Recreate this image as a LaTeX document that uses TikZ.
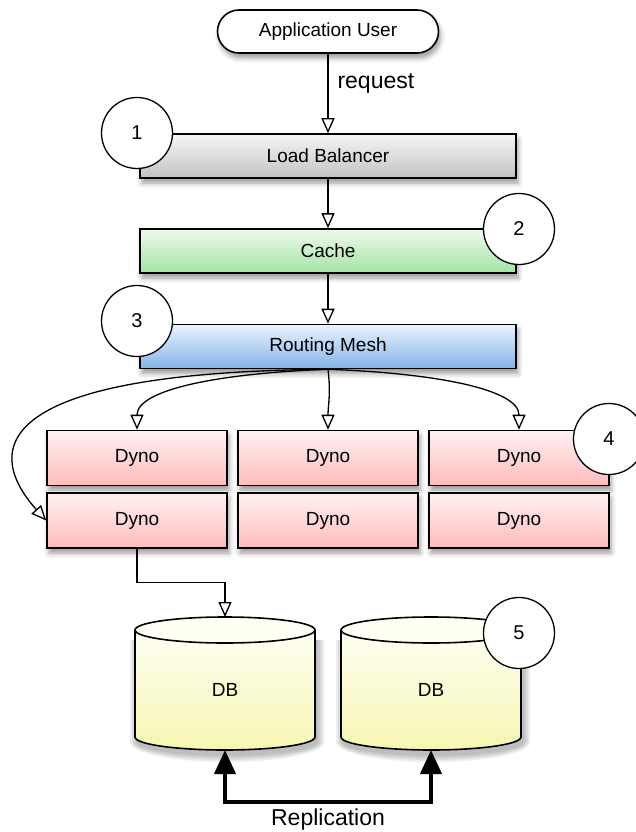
\documentclass[tikz,border=0pt]{standalone}
\usepackage{fontspec}
\setmainfont{Liberation Sans}
\usetikzlibrary{arrows.meta,shapes.misc,shadows.blur}

\newcommand\bxfont{\fontsize{19}{22}\selectfont}
\newcommand\lblfont{\fontsize{23}{26}\selectfont}
\newcommand\cfont{\fontsize{20}{22}\selectfont}

\definecolor{lbtop}{HTML}{F6F6F6}
\definecolor{lbbot}{HTML}{C2C2C2}
\definecolor{catop}{HTML}{EEFAEE}
\definecolor{cabot}{HTML}{A4E4A4}
\definecolor{rmtop}{HTML}{EAF2FC}
\definecolor{rmbot}{HTML}{84B4EA}
\definecolor{dytop}{HTML}{FFF2F2}
\definecolor{dybot}{HTML}{FFBABD}
\definecolor{dbtop}{HTML}{FFFFF4}
\definecolor{dbbot}{HTML}{F6F6B2}

\tikzset{
  shad/.style={blur shadow={shadow xshift=2pt, shadow yshift=-5pt, shadow blur radius=5pt, shadow opacity=40}},
  tier/.style={draw=black, line width=1.6pt, minimum width=376pt, minimum height=44pt,
    inner sep=0pt, font=\bxfont, shad},
  dyno/.style={tier, minimum width=180pt, minimum height=55pt, top color=dytop, bottom color=dybot},
  badge/.style={circle, draw=black, fill=white, line width=1.3pt, minimum size=71pt,
    inner sep=0pt, font=\cfont},
  link/.style={line width=1.3pt, -{Triangle[length=15pt, width=13pt, fill=white, line width=1.3pt]}},
  heavy/.style={line width=4pt, {Triangle[length=24pt, width=21pt]}-{Triangle[length=24pt, width=21pt]}},
}

\begin{document}
\begin{tikzpicture}[x=1pt, y=-1pt]
\useasboundingbox (0,0) rectangle (635,832);

% client
\node[rounded rectangle, draw=black, line width=1.6pt, fill=white, minimum width=221pt,
      minimum height=43pt, inner sep=0pt, font=\bxfont, shad] (user) at (328,31.5) {Application User};

% platform tiers
\node[tier, top color=lbtop, bottom color=lbbot] (lb) at (328,156) {Load Balancer};
\node[tier, top color=catop, bottom color=cabot] (cache) at (328,251) {Cache};
\node[tier, top color=rmtop, bottom color=rmbot] (rm) at (328,346.5) {Routing Mesh};

% dyno grid
\node[dyno] (d11) at (137,458) {Dyno};
\node[dyno] (d12) at (328,458) {Dyno};
\node[dyno] (d13) at (519,458) {Dyno};
\node[dyno] (d21) at (137,520.5) {Dyno};
\node[dyno] (d22) at (328,520.5) {Dyno};
\node[dyno] (d23) at (519,520.5) {Dyno};

% databases (cylinders with a soft shadow underneath)
\foreach \cx/\nm in {225/db1, 431/db2}{
  \foreach \s in {1,3,5,7}{
    \fill[black, opacity=0.07]
      (\cx-88-\s,640) -- (\cx-88-\s,742) arc[start angle=180, end angle=0, x radius=90+\s, y radius=13+\s]
      -- (\cx+92+\s,640) -- cycle;
  }
  \shade[top color=dbtop, bottom color=dbbot]
    (\cx-90,630) -- (\cx-90,737) arc[start angle=180, end angle=0, x radius=90, y radius=13]
    -- (\cx+90,630) arc[start angle=0, end angle=180, x radius=90, y radius=13] -- cycle;
  \draw[line width=1.6pt]
    (\cx-90,630) -- (\cx-90,737) arc[start angle=180, end angle=0, x radius=90, y radius=13]
    -- (\cx+90,630);
  \draw[line width=1.6pt, fill=dbtop] (\cx,630) ellipse[x radius=90, y radius=13];
  \node[font=\bxfont] (\nm) at (\cx,690) {DB};
  \coordinate (\nm top) at (\cx,617);
  \coordinate (\nm bot) at (\cx,750);
}

% request flow
\draw[link] (user.south) -- (lb.north);
\node[font=\lblfont, anchor=west] (req) at (334,83) {request};
\draw[link] (lb.south) -- (cache.north);
\draw[link] (cache.south) -- (rm.north);

\draw[link] (rm.south) .. controls +(-110,4) and +(0,-40) .. (d11.north);
\draw[link] (rm.south) .. controls +(3,25) and +(0,-25) .. (d12.north);
\draw[link] (rm.south) .. controls +(110,4) and +(0,-40) .. (d13.north);
\draw[link] (rm.south) .. controls +(-380,3) and +(-45,-50) .. (d21.west);

\draw[link] (d21.south) -- ++(0,34) -| (db1top);

% replication between databases
\draw[heavy] (db1bot) -- ++(0,52) -| (db2bot);
\node[font=\lblfont] (rep) at (328,820) {Replication};

% numbered callouts
\node[badge] (n1) at (137,133) {1};
\node[badge] (n2) at (519,229) {2};
\node[badge] (n3) at (137,321) {3};
\node[badge] (n4) at (609,439) {4};
\node[badge] (n5) at (519,633) {5};
\end{tikzpicture}
\end{document}
